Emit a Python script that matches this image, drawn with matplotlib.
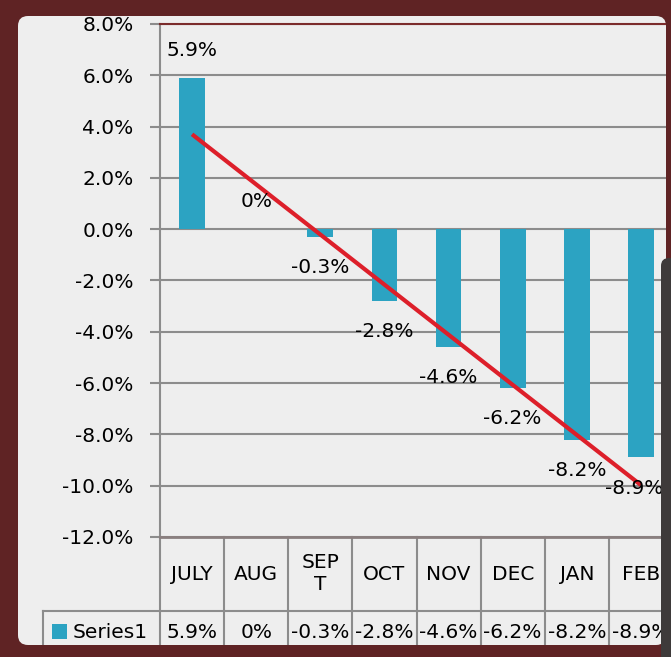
import numpy as np
import matplotlib.pyplot as plt
from matplotlib.patches import Rectangle, FancyBboxPatch
from matplotlib.lines import Line2D

plt.rcParams['font.family'] = ['DejaVu Sans']

# chart data
months = ["JULY", "AUG", "SEPT", "OCT", "NOV", "DEC", "JAN", "FEB"]
header_labels = ["JULY", "AUG", "SEP\nT", "OCT", "NOV", "DEC", "JAN", "FEB"]
values = [5.9, 0, -0.3, -2.8, -4.6, -6.2, -8.2, -8.9]
value_labels = ["5.9%", "0%", "-0.3%", "-2.8%", "-4.6%", "-6.2%", "-8.2%", "-8.9%"]
series_name = "Series1"
y_ticks = [-12, -10, -8, -6, -4, -2, 0, 2, 4, 6, 8]

W, H = 671, 657
maroon = '#5f2324'
bar_color = '#2ca3c2'
grid_color = '#8c8c8c'
fs = 14.5


def fx(x):
    return x / W


def fy(y):
    return 1 - y / H


fig = plt.figure(figsize=(W / 100, H / 100), dpi=100, facecolor=maroon)

# light slide panel behind the chart
panel = FancyBboxPatch((fx(18), fy(645)), fx(666) - fx(18), fy(16) - fy(645),
                       boxstyle="round,pad=0,rounding_size=0.015",
                       transform=fig.transFigure, facecolor='#eeeeee',
                       edgecolor='none', zorder=-5)
fig.add_artist(panel)

ax = fig.add_axes([fx(160), fy(537), 513 / W, 513 / H])
ax.set_facecolor('none')

x = np.arange(len(months))
ax.bar(x, values, width=0.4, color=bar_color, zorder=2)

# linear trendline
k, b = np.polyfit(x + 1, values, 1)
ax.plot([x[0], x[-1]], [k * (x[0] + 1) + b, k * (x[-1] + 1) + b],
        color='#dd1f2a', lw=3, solid_capstyle='butt', zorder=4)

# data labels
for i, v in enumerate(values):
    dx = -5 if i == len(values) - 1 else 0
    dy = 20 if v >= 0 else -22
    ax.annotate(value_labels[i], (x[i], v), xytext=(dx, dy),
                textcoords='offset points', ha='center', va='center',
                fontsize=fs, zorder=5)

ax.set_xlim(-0.5, len(months) - 0.5)
ax.set_ylim(-12, 8)
ax.set_yticks(y_ticks)
ax.set_yticklabels([f"{t:.1f}%" for t in y_ticks])
ax.set_xticks([])
ax.tick_params(axis='y', length=7, width=1.5, color=grid_color, pad=12,
               labelsize=fs)
ax.yaxis.grid(True, color=grid_color, lw=1.5, zorder=0)
ax.set_axisbelow(True)
ax.spines['right'].set_visible(False)
ax.spines['left'].set_color(grid_color)
ax.spines['left'].set_linewidth(1.5)
ax.spines['top'].set_color('#7b2c2c')
ax.spines['top'].set_linewidth(1.5)
ax.spines['bottom'].set_color('#8a7f7f')
ax.spines['bottom'].set_linewidth(2)

# data table below the plot
xt = ax.get_xaxis_transform()
row_line = -74 / 513
table_bottom = -140 / 513
left_col = (43 - 160) / 513
for i in range(len(months) + 1):
    ax.add_line(Line2D([i - 0.5, i - 0.5], [0, table_bottom], transform=xt,
                       color=grid_color, lw=1.5, clip_on=False))
ax.add_line(Line2D([left_col, 1], [row_line, row_line], transform=ax.transAxes,
                   color=grid_color, lw=1.5, clip_on=False))
ax.add_line(Line2D([left_col, left_col], [row_line, table_bottom],
                   transform=ax.transAxes, color=grid_color, lw=1.5,
                   clip_on=False))
for i, lab in enumerate(header_labels):
    ax.text(x[i], -37 / 513, lab, transform=xt, ha='center', va='center',
            fontsize=fs, linespacing=1.2, clip_on=False)
    ax.text(x[i], -95 / 513, value_labels[i], transform=xt, ha='center',
            va='center', fontsize=fs, clip_on=False)
ax.add_patch(Rectangle(((52 - 160) / 513, -102 / 513), 15 / 513, 15 / 513,
                       transform=ax.transAxes, facecolor=bar_color,
                       edgecolor='none', clip_on=False))
ax.text((73 - 160) / 513, -95 / 513, series_name, transform=ax.transAxes,
        ha='left', va='center', fontsize=fs, clip_on=False)

# slide frame pieces over the chart edges
fig.add_artist(Rectangle((fx(666), 0), 1 - fx(666), 1, transform=fig.transFigure,
                         facecolor=maroon, edgecolor='none', zorder=10))
fig.add_artist(Rectangle((0, 0), 1, fy(645), transform=fig.transFigure,
                         facecolor=maroon, edgecolor='none', zorder=10))
fig.add_artist(FancyBboxPatch((fx(661), fy(680)), fx(690) - fx(661),
                              fy(258) - fy(680),
                              boxstyle="round,pad=0,rounding_size=0.012",
                              transform=fig.transFigure, facecolor='#3e3a3a',
                              edgecolor='none', zorder=11))

fig.savefig('out.png', dpi=100, facecolor=fig.get_facecolor())
